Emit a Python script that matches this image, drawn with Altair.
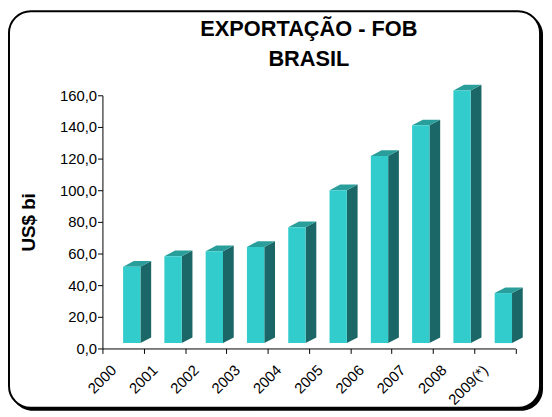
import altair as alt
import pandas as pd

# ---- data ----
years = ["2000", "2001", "2002", "2003", "2004", "2005", "2006", "2007", "2008", "2009(*)"]
values = [51.7, 58.3, 61.4, 64.2, 76.6, 100.0, 121.7, 141.0, 163.1, 35.0]
y_ticks = [0, 20, 40, 60, 80, 100, 120, 140, 160]
title_lines = ["EXPORTAÇÃO - FOB", "BRASIL"]
y_title = "US$ bi"

# ---- styles ----
FRONT = "#33CCCC"
SIDE = "#1B6767"
TOP = "#2A9E9B"
FONT = "Liberation Sans"

W = 0.42
DX = 0.26
DY = 3.6
FLOOR = 3.4

PW, PH = 417.5, 256
PAD_L, PAD_T, PAD_R, PAD_B = 95.5, 86, 29, 64

df = pd.DataFrame({"year": years, "value": values})
n = len(years)

xscale = alt.Scale(domain=[0, n], nice=False, zero=False)
yscale = alt.Scale(domain=[0, 160], nice=False)

label_arr = "[" + ",".join("'" + y + "'" for y in years) + "]"

x_axis = alt.Axis(
    values=list(range(n + 1)),
    labelExpr=f"datum.value < {n} ? {label_arr}[datum.value] : ''",
    labelAngle=-45,
    labelAlign="right",
    labelBaseline="middle",
    labelOffset=11,
    labelPadding=14,
    labelFontSize=15,
    labelFont=FONT,
    labelColor="black",
    labelOverlap=False,
    labelBound=False,
    labelFlush=False,
    grid=False,
    domainColor="black",
    tickColor="black",
    tickSize=5,
    zindex=2,
)
y_axis = alt.Axis(
    values=y_ticks,
    labelExpr="replace(format(datum.value, '.1f'), '.', ',')",
    labelFontSize=15,
    labelFont=FONT,
    labelColor="black",
    labelPadding=1,
    labelFlush=False,
    grid=False,
    domainColor="black",
    tickColor="black",
    tickSize=5,
    titleFont=FONT,
    titleFontSize=19,
    titleFontWeight="bold",
    titleColor="black",
    titlePadding=21,
    zindex=2,
)


def X(field):
    return alt.X(field, scale=xscale, axis=x_axis, title=None)


def Y(field):
    return alt.Y(field, scale=yscale, axis=y_axis, title=y_title, stack=False)


base = alt.Chart(df).transform_window(rn="row_number()").transform_calculate(
    xl="datum.rn - 0.5",
    xr=f"datum.rn - 0.5 + {W}",
    floor=f"{FLOOR}",
)

side = base.transform_calculate(k="[0, 1]").transform_flatten(["k"]).transform_calculate(
    sx=f"datum.xr + datum.k * {DX}",
    sy=f"datum.value + datum.k * {DY}",
    sy2=f"{FLOOR} + datum.k * {DY}",
).mark_area(color=SIDE).encode(
    x=X("sx:Q"),
    y=Y("sy:Q"),
    y2="sy2:Q",
    detail="year:N",
)

top = base.transform_calculate(k="[0, 1, 2, 3]").transform_flatten(["k"]).transform_calculate(
    tx=f"datum.xl + (datum.k == 0 ? 0 : datum.k == 1 ? {DX} : datum.k == 2 ? {W} : {W + DX})",
    ty=f"datum.value + (datum.k == 0 ? 0 : {DY})",
    ty2=f"datum.value + (datum.k == 3 ? {DY} : 0)",
).mark_area(color=TOP).encode(
    x=X("tx:Q"),
    y=Y("ty:Q"),
    y2="ty2:Q",
    detail="year:N",
)

front = base.mark_rect(color=FRONT).encode(
    x=X("xl:Q"),
    x2="xr:Q",
    y=Y("value:Q"),
    y2="floor:Q",
)

one = alt.Data(values=[{}])
shadow = alt.Chart(one).mark_rect(color="black", cornerRadius=22).encode(
    x=alt.value(-PAD_L + 3), x2=alt.value(PW + PAD_R - 1),
    y=alt.value(-PAD_T + 3), y2=alt.value(PH + PAD_B - 1),
)
frame = alt.Chart(one).mark_rect(fill="white", stroke="black", strokeWidth=2, cornerRadius=22).encode(
    x=alt.value(-PAD_L + 1), x2=alt.value(PW + PAD_R - 4),
    y=alt.value(-PAD_T + 1), y2=alt.value(PH + PAD_B - 4),
)

chart = alt.layer(shadow, frame, side, top, front).properties(
    width=PW,
    height=PH,
    padding={"left": PAD_L, "top": PAD_T, "right": PAD_R, "bottom": PAD_B},
    autosize=alt.AutoSizeParams(type="none"),
    title=alt.Title(
        title_lines,
        font=FONT,
        fontSize=22,
        fontWeight="bold",
        color="black",
        lineHeight=30,
        anchor="middle",
        offset=-61,
    ),
).configure_view(stroke=None)

chart.save("out.html", embed_options={"renderer": "svg", "actions": False})
